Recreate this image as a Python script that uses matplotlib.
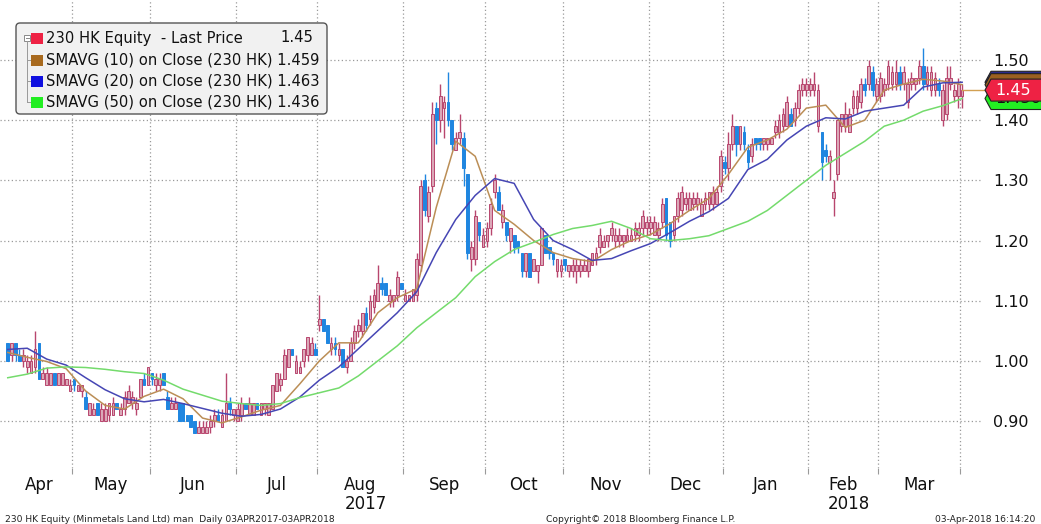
import matplotlib
matplotlib.use("Agg")
import matplotlib.pyplot as plt
from matplotlib.patches import FancyBboxPatch, Rectangle, Polygon
from matplotlib.transforms import blended_transform_factory

W, H = 1041, 524

# daily candles (open, high, low, close), one list per month
apr17 = [(1.03, 1.03, 1.00, 1.00), (1.01, 1.03, 1.00, 1.03), (1.03, 1.03, 1.00, 1.01), (1.01, 1.02, 1.00, 1.00),
         (1.00, 1.02, 0.99, 1.01), (0.99, 1.01, 0.98, 1.00), (0.98, 1.01, 0.98, 1.00), (0.99, 1.05, 0.98, 1.02),
         (1.03, 1.03, 0.97, 0.97), (0.97, 0.99, 0.97, 0.98), (0.96, 0.99, 0.96, 0.98), (0.96, 0.98, 0.96, 0.98),
         (0.98, 0.98, 0.96, 0.96), (0.96, 0.98, 0.96, 0.98), (0.96, 0.98, 0.96, 0.98), (0.96, 0.97, 0.96, 0.97),
         (0.95, 0.97, 0.95, 0.96)]
may17 = [(0.97, 0.97, 0.95, 0.96), (0.95, 0.96, 0.95, 0.96), (0.95, 0.96, 0.94, 0.96), (0.94, 0.95, 0.92, 0.92),
         (0.91, 0.93, 0.91, 0.93), (0.91, 0.93, 0.91, 0.92), (0.93, 0.93, 0.91, 0.91), (0.90, 0.93, 0.90, 0.92),
         (0.90, 0.93, 0.90, 0.92), (0.91, 0.93, 0.90, 0.93), (0.91, 0.94, 0.91, 0.93), (0.93, 0.93, 0.92, 0.92),
         (0.91, 0.93, 0.91, 0.92), (0.92, 0.95, 0.91, 0.94), (0.93, 0.96, 0.93, 0.95), (0.93, 0.95, 0.92, 0.94),
         (0.92, 0.94, 0.91, 0.93), (0.94, 0.97, 0.94, 0.97), (0.97, 0.98, 0.96, 0.96), (0.96, 0.99, 0.96, 0.99)]
jun17 = [(0.98, 0.98, 0.96, 0.97), (0.96, 0.98, 0.95, 0.97), (0.96, 0.98, 0.95, 0.97), (0.98, 0.98, 0.96, 0.96),
         (0.94, 0.95, 0.92, 0.92), (0.92, 0.94, 0.92, 0.93), (0.92, 0.94, 0.92, 0.93), (0.93, 0.93, 0.90, 0.90),
         (0.93, 0.93, 0.90, 0.90), (0.91, 0.91, 0.90, 0.90), (0.91, 0.91, 0.89, 0.89), (0.90, 0.90, 0.88, 0.88),
         (0.88, 0.90, 0.88, 0.89), (0.88, 0.90, 0.88, 0.89), (0.88, 0.90, 0.88, 0.89), (0.89, 0.91, 0.88, 0.90),
         (0.90, 0.92, 0.89, 0.91), (0.91, 0.92, 0.90, 0.90), (0.89, 0.92, 0.89, 0.91), (0.90, 0.98, 0.90, 0.93),
         (0.93, 0.94, 0.91, 0.92), (0.91, 0.92, 0.90, 0.92)]
jul17 = [(0.90, 0.93, 0.90, 0.92), (0.91, 0.94, 0.90, 0.93), (0.93, 0.93, 0.92, 0.92), (0.91, 0.94, 0.91, 0.93),
         (0.91, 0.93, 0.91, 0.93), (0.93, 0.93, 0.92, 0.92), (0.91, 0.93, 0.91, 0.93), (0.92, 0.93, 0.91, 0.93),
         (0.91, 0.93, 0.91, 0.93), (0.92, 0.96, 0.92, 0.96), (0.95, 0.98, 0.95, 0.98), (0.96, 0.98, 0.95, 0.97),
         (0.97, 1.02, 0.97, 1.01), (0.99, 1.02, 0.99, 1.02), (1.02, 1.02, 1.01, 1.01), (0.98, 1.01, 0.98, 1.00),
         (0.98, 1.00, 0.98, 0.99), (1.00, 1.02, 0.99, 1.02), (1.01, 1.04, 1.00, 1.04), (1.01, 1.04, 1.01, 1.03),
         (1.02, 1.03, 1.01, 1.01)]
aug17 = [(1.06, 1.11, 1.05, 1.07), (1.07, 1.07, 1.05, 1.05), (1.06, 1.06, 1.03, 1.03), (1.02, 1.04, 1.01, 1.03),
         (1.03, 1.04, 1.01, 1.02), (1.01, 1.03, 1.00, 1.02), (1.02, 1.02, 0.99, 0.99), (0.99, 1.01, 0.98, 1.00),
         (1.00, 1.04, 1.00, 1.03), (1.03, 1.06, 1.02, 1.05), (1.05, 1.07, 1.04, 1.06), (1.05, 1.08, 1.04, 1.08),
         (1.08, 1.09, 1.05, 1.06), (1.07, 1.11, 1.06, 1.10), (1.09, 1.12, 1.08, 1.11), (1.10, 1.16, 1.10, 1.13),
         (1.13, 1.14, 1.11, 1.12), (1.13, 1.13, 1.11, 1.11), (1.10, 1.12, 1.09, 1.11), (1.10, 1.11, 1.09, 1.11),
         (1.11, 1.15, 1.10, 1.14), (1.13, 1.13, 1.12, 1.12)]
sep17 = [(1.10, 1.12, 1.10, 1.11), (1.10, 1.11, 1.10, 1.11), (1.10, 1.12, 1.10, 1.12), (1.11, 1.18, 1.10, 1.17),
         (1.16, 1.30, 1.15, 1.29), (1.30, 1.31, 1.24, 1.25), (1.24, 1.29, 1.23, 1.28), (1.29, 1.43, 1.28, 1.41),
         (1.42, 1.43, 1.36, 1.40), (1.40, 1.46, 1.38, 1.44), (1.42, 1.44, 1.37, 1.43), (1.43, 1.48, 1.39, 1.40),
         (1.40, 1.40, 1.35, 1.36), (1.35, 1.38, 1.35, 1.37), (1.37, 1.41, 1.36, 1.38), (1.37, 1.38, 1.29, 1.32),
         (1.31, 1.31, 1.17, 1.18), (1.17, 1.20, 1.15, 1.19), (1.17, 1.25, 1.16, 1.24), (1.23, 1.23, 1.20, 1.21),
         (1.19, 1.22, 1.19, 1.21)]
oct17 = [(1.20, 1.23, 1.19, 1.22), (1.22, 1.27, 1.21, 1.26), (1.28, 1.31, 1.27, 1.30), (1.28, 1.29, 1.25, 1.25),
         (1.23, 1.26, 1.22, 1.25), (1.23, 1.23, 1.20, 1.21), (1.20, 1.22, 1.18, 1.22), (1.21, 1.21, 1.18, 1.19),
         (1.20, 1.20, 1.18, 1.19), (1.18, 1.18, 1.14, 1.15), (1.15, 1.18, 1.14, 1.18), (1.18, 1.18, 1.14, 1.14),
         (1.15, 1.17, 1.15, 1.17), (1.15, 1.16, 1.13, 1.16), (1.16, 1.22, 1.16, 1.22), (1.21, 1.21, 1.18, 1.18),
         (1.19, 1.19, 1.17, 1.18), (1.18, 1.18, 1.16, 1.17), (1.15, 1.17, 1.14, 1.17), (1.15, 1.17, 1.14, 1.16)]
nov17 = [(1.17, 1.17, 1.15, 1.16), (1.15, 1.16, 1.14, 1.16), (1.15, 1.17, 1.14, 1.16), (1.15, 1.17, 1.13, 1.16),
         (1.15, 1.17, 1.14, 1.16), (1.15, 1.17, 1.15, 1.16), (1.15, 1.17, 1.14, 1.17), (1.16, 1.18, 1.16, 1.18),
         (1.17, 1.19, 1.16, 1.18), (1.19, 1.22, 1.18, 1.21), (1.19, 1.21, 1.19, 1.20), (1.20, 1.21, 1.19, 1.21),
         (1.21, 1.23, 1.20, 1.22), (1.20, 1.22, 1.19, 1.21), (1.20, 1.22, 1.19, 1.21), (1.20, 1.21, 1.19, 1.21),
         (1.20, 1.22, 1.20, 1.21), (1.20, 1.22, 1.20, 1.21), (1.21, 1.23, 1.20, 1.22), (1.21, 1.23, 1.20, 1.22),
         (1.22, 1.25, 1.21, 1.24), (1.22, 1.24, 1.21, 1.23)]
dec17 = [(1.22, 1.24, 1.21, 1.23), (1.21, 1.24, 1.21, 1.23), (1.21, 1.23, 1.20, 1.22), (1.23, 1.27, 1.22, 1.26),
         (1.27, 1.27, 1.20, 1.21), (1.23, 1.23, 1.19, 1.20), (1.21, 1.24, 1.20, 1.24), (1.24, 1.28, 1.23, 1.27),
         (1.25, 1.29, 1.24, 1.28), (1.26, 1.28, 1.25, 1.27), (1.25, 1.28, 1.25, 1.27), (1.26, 1.28, 1.25, 1.27),
         (1.26, 1.28, 1.25, 1.27), (1.24, 1.27, 1.24, 1.26), (1.26, 1.28, 1.25, 1.27), (1.26, 1.28, 1.25, 1.28),
         (1.26, 1.29, 1.25, 1.28), (1.26, 1.29, 1.26, 1.28), (1.29, 1.35, 1.28, 1.34)]
jan18 = [(1.33, 1.34, 1.31, 1.32), (1.32, 1.38, 1.30, 1.36), (1.36, 1.41, 1.35, 1.39), (1.39, 1.39, 1.34, 1.36),
         (1.36, 1.39, 1.35, 1.39), (1.38, 1.39, 1.35, 1.36), (1.35, 1.36, 1.32, 1.33), (1.34, 1.37, 1.33, 1.36),
         (1.37, 1.37, 1.35, 1.36), (1.37, 1.37, 1.35, 1.36), (1.36, 1.37, 1.35, 1.37), (1.36, 1.37, 1.35, 1.37),
         (1.36, 1.37, 1.36, 1.37), (1.38, 1.40, 1.37, 1.39), (1.38, 1.41, 1.37, 1.40), (1.39, 1.42, 1.38, 1.41),
         (1.39, 1.44, 1.39, 1.43), (1.41, 1.42, 1.39, 1.39), (1.40, 1.43, 1.39, 1.42), (1.42, 1.46, 1.41, 1.45),
         (1.45, 1.47, 1.44, 1.46), (1.45, 1.47, 1.44, 1.46)]
feb18 = [(1.45, 1.47, 1.44, 1.46), (1.45, 1.48, 1.44, 1.46), (1.39, 1.46, 1.38, 1.45), (1.38, 1.38, 1.30, 1.33),
         (1.35, 1.36, 1.33, 1.34), (1.33, 1.35, 1.30, 1.34), (1.27, 1.30, 1.24, 1.28), (1.31, 1.40, 1.30, 1.40),
         (1.39, 1.41, 1.38, 1.41), (1.39, 1.43, 1.38, 1.41), (1.38, 1.42, 1.38, 1.41), (1.42, 1.45, 1.41, 1.44),
         (1.42, 1.45, 1.41, 1.44), (1.43, 1.47, 1.42, 1.46), (1.46, 1.47, 1.44, 1.45), (1.46, 1.50, 1.45, 1.49),
         (1.48, 1.49, 1.44, 1.45), (1.44, 1.47, 1.43, 1.46)]
mar18 = [(1.44, 1.48, 1.43, 1.47), (1.45, 1.47, 1.44, 1.46), (1.46, 1.50, 1.45, 1.49), (1.46, 1.49, 1.45, 1.48),
         (1.46, 1.50, 1.45, 1.48), (1.48, 1.49, 1.45, 1.46), (1.46, 1.49, 1.45, 1.48), (1.43, 1.47, 1.42, 1.46),
         (1.46, 1.48, 1.45, 1.47), (1.46, 1.47, 1.45, 1.47), (1.47, 1.50, 1.46, 1.49), (1.49, 1.52, 1.45, 1.46),
         (1.46, 1.49, 1.45, 1.48), (1.45, 1.49, 1.44, 1.48), (1.45, 1.48, 1.44, 1.47), (1.46, 1.47, 1.44, 1.45),
         (1.40, 1.46, 1.39, 1.45), (1.41, 1.49, 1.40, 1.47), (1.46, 1.49, 1.45, 1.47), (1.44, 1.46, 1.43, 1.45),
         (1.44, 1.47, 1.42, 1.46)]
apr18 = [(1.44, 1.46, 1.42, 1.45)]

months = [apr17, may17, jun17, jul17, aug17, sep17, oct17, nov17, dec17, jan18, feb18, mar18, apr18]
month_names = ["Apr", "May", "Jun", "Jul", "Aug", "Sep", "Oct", "Nov", "Dec", "Jan", "Feb", "Mar"]
year_labels = {"Aug": "2017", "Feb": "2018"}

# moving averages, every 5th trading day
sma_step = 5
sma10 = [1.014, 1.006, 0.999, 0.987, 0.950, 0.926, 0.920, 0.941, 0.953, 0.937,
         0.905, 0.897, 0.907, 0.918, 0.926, 0.962, 1.000, 1.030, 1.030, 1.080,
         1.105, 1.120, 1.255, 1.365, 1.340, 1.250, 1.227, 1.200, 1.180, 1.170,
         1.165, 1.185, 1.200, 1.210, 1.228, 1.250, 1.270, 1.310, 1.355, 1.367,
         1.385, 1.420, 1.425, 1.388, 1.400, 1.450, 1.460, 1.468, 1.465, 1.459]
sma20 = [1.019, 1.021, 1.003, 0.993, 0.972, 0.952, 0.937, 0.932, 0.936, 0.929,
         0.921, 0.913, 0.908, 0.911, 0.920, 0.940, 0.968, 0.990, 1.020, 1.050,
         1.080, 1.115, 1.180, 1.235, 1.275, 1.303, 1.295, 1.235, 1.200, 1.185,
         1.167, 1.170, 1.183, 1.195, 1.213, 1.232, 1.248, 1.270, 1.318, 1.335,
         1.367, 1.390, 1.404, 1.402, 1.415, 1.420, 1.425, 1.455, 1.462, 1.463]
sma50 = [0.972, 0.978, 0.988, 0.990, 0.989, 0.986, 0.982, 0.979, 0.968, 0.953,
         0.943, 0.933, 0.929, 0.926, 0.929, 0.939, 0.947, 0.955, 0.975, 1.000,
         1.025, 1.055, 1.080, 1.105, 1.140, 1.165, 1.185, 1.197, 1.210, 1.220,
         1.225, 1.232, 1.220, 1.203, 1.200, 1.203, 1.208, 1.220, 1.232, 1.250,
         1.275, 1.300, 1.325, 1.345, 1.365, 1.390, 1.400, 1.415, 1.424, 1.436]

last_price = 1.45
legend_rows = [("230 HK Equity  - Last Price", "1.45", "#ee2244"),
               ("SMAVG (10) on Close (230 HK) 1.459", "", "#a86a1e"),
               ("SMAVG (20) on Close (230 HK) 1.463", "", "#1010e0"),
               ("SMAVG (50) on Close (230 HK) 1.436", "", "#22ee22")]
yticks = [0.90, 1.00, 1.10, 1.20, 1.30, 1.40, 1.50]

ohlc = [c for m in months for c in m]
n = len(ohlc)
starts = [0]
for m in months:
    starts.append(starts[-1] + len(m))

c10, c20, c50 = "#bb8e56", "#4646b4", "#74db6c"
up_fill, up_edge = "#dba8b8", "#b8466e"
dn_col = "#1f86e0"

fig = plt.figure(figsize=(W / 100, H / 100), dpi=100)
ax = fig.add_axes([0, 1 - 468 / H, 982 / W, 468 / H])
ax.set_xlim(-1.99, 250.1)
ax.set_ylim(0.822, 1.5997)
for s in ax.spines.values():
    s.set_visible(False)

# candles
for i, (o, h, l, c) in enumerate(ohlc):
    if c >= o:
        fc, ec = up_fill, up_edge
    else:
        fc, ec = dn_col, dn_col
    ax.vlines(i, l, h, color=ec, lw=1.0, zorder=2)
    body = max(abs(c - o), 0.002)
    ax.bar(i, body, bottom=min(o, c), width=0.7, color=fc, edgecolor=ec, lw=0.7, zorder=3)

xs = list(range(0, n, sma_step))
ax.plot(xs, sma10, color=c10, lw=1.1, zorder=4)
ax.plot(xs, sma20, color=c20, lw=1.1, zorder=4)
ax.plot(xs, sma50, color=c50, lw=1.1, zorder=4)

# grid
ax.set_yticks(yticks)
ax.set_yticklabels([f"{v:.2f}" for v in yticks])
ax.yaxis.tick_right()
ax.tick_params(axis="y", length=0, pad=8, labelsize=11.5, labelcolor="#111111")
ax.grid(axis="y", color="#9a9a9a", lw=0.9, ls=(0, (1, 2)))
bounds = [s - 0.5 for s in starts[1:-1]]
ax.set_xticks(bounds, minor=True)
centers = [(starts[k] + starts[k + 1] - 1) / 2 for k in range(len(month_names))]
ax.set_xticks(centers)
ax.set_xticklabels(month_names)
ax.tick_params(axis="x", which="major", length=0, pad=6, labelsize=12, labelcolor="#111111")
ax.tick_params(axis="x", which="minor", length=4, width=0.8, color="#9a9a9a", direction="out")
ax.grid(axis="x", which="minor", color="#9a9a9a", lw=0.9, ls=(0, (1, 2)))
ax.set_axisbelow(True)

tr = blended_transform_factory(ax.transData, ax.transAxes)
for k, name in enumerate(month_names):
    if name in year_labels:
        ax.text(centers[k] + 1.5, -0.058, year_labels[name], transform=tr, ha="center", va="top",
                fontsize=12, color="#111111")

# overlay in pixel coordinates (origin bottom-left)
ov = fig.add_axes([0, 0, 1, 1], zorder=10)
ov.set_xlim(0, W)
ov.set_ylim(0, H)
ov.axis("off")
ov.patch.set_alpha(0)


def ypix(v):
    return ax.transData.transform((0, v))[1]


# last price line to the tags
x_last = ax.transData.transform((n - 1, 0))[0]
ov.plot([x_last, 986], [ypix(last_price)] * 2, color="#d2a052", lw=1.0)


def tag(v, color, txt=None, tcol="white", z=1):
    yc = ypix(v)
    hh = 11
    pts = [(985, yc), (991, yc + hh), (W + 5, yc + hh), (W + 5, yc - hh), (991, yc - hh)]
    ov.add_patch(Polygon(pts, closed=True, fc=color, ec="#222222", lw=0.8, zorder=z))
    if txt:
        ov.text(995, yc, txt, color=tcol, fontsize=11.5, va="center", ha="left", zorder=z + 0.5)


tag(sma20[-1], "#2a2a8a", z=1)
tag(sma10[-1], "#9a6020", z=2)
tag(sma50[-1], "#22ee22", f"{sma50[-1]:.3f}", tcol="#111111", z=3)
tag(last_price, "#ee2244", f"{last_price:.2f}", z=4)

# legend box
ov.add_patch(FancyBboxPatch((16, H - 114), 311, 91, boxstyle="round,pad=0,rounding_size=4",
                            fc="#f1f1f1", ec="#555555", lw=1.0, zorder=5))
row_y = [H - 38, H - 60, H - 81, H - 102]
ov.add_patch(Rectangle((24, row_y[0] - 3), 6, 6, fc="white", ec="#888888", lw=0.7, zorder=6))
ov.plot([25.5, 28.5], [row_y[0]] * 2, color="#888888", lw=0.7, zorder=7)
ov.plot([27, 27], [row_y[0] - 3, row_y[-1]], color="#999999", lw=0.7, zorder=6)
for k, (label, val, col) in enumerate(legend_rows):
    y = row_y[k]
    if k > 0:
        ov.plot([27, 31], [y, y], color="#999999", lw=0.7, zorder=6)
    ov.add_patch(Rectangle((31, y - 5.5), 12, 11, fc=col, ec="none", zorder=6))
    ov.text(46, y, label, fontsize=10.6, va="center", ha="left", color="#111111", zorder=7)
    if val:
        ov.text(280, y, val, fontsize=10.6, va="center", ha="left", color="#111111", zorder=7)

# footer
ov.text(5, H - 519, "230 HK Equity (Minmetals Land Ltd) man  Daily 03APR2017-03APR2018",
        fontsize=6.6, va="center", ha="left", color="#222222")
ov.text(641, H - 519, "Copyright\u00a9 2018 Bloomberg Finance L.P.",
        fontsize=6.6, va="center", ha="center", color="#222222")
ov.text(1035, H - 519, "03-Apr-2018 16:14:20", fontsize=6.6, va="center", ha="right", color="#222222")

fig.savefig("out.png", dpi=100)
